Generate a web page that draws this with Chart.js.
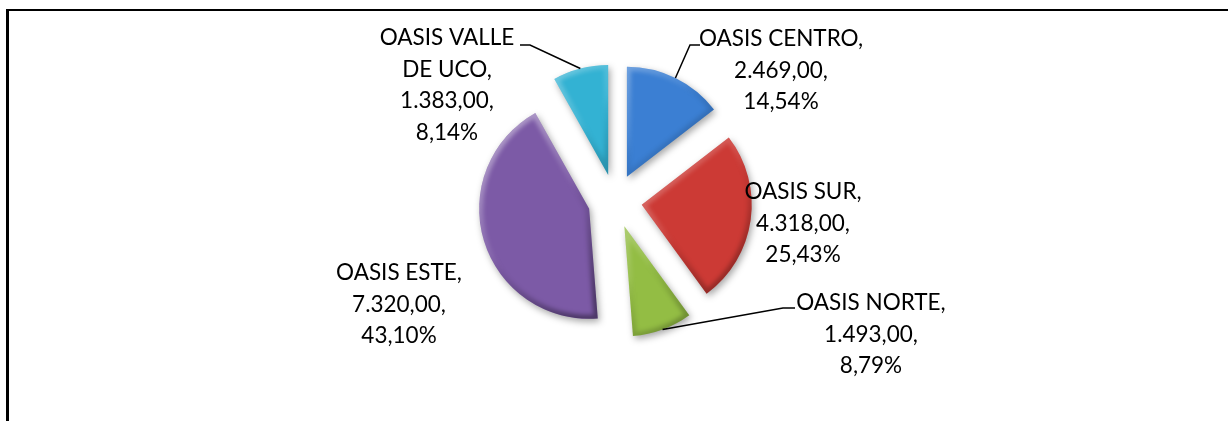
<!DOCTYPE html>
<html>
<head>
<meta charset="utf-8">
<script src="https://cdn.jsdelivr.net/npm/chart.js@4.4.1/dist/chart.umd.min.js"></script>
<style>
html, body { margin: 0; padding: 0; background: #fff; overflow: hidden; }
#wrap { position: relative; width: 1228px; height: 421px; }
#marco { position: absolute; left: 6px; top: 9px; width: 1400px; height: 600px; border-top: 2px solid #000; border-left: 3px solid #000; }
canvas { position: absolute; left: 0; top: 0; }
</style>
</head>
<body>
<div id="wrap">
  <div id="marco"></div>
  <canvas id="graficaPastel" width="1228" height="421"></canvas>
</div>
<script>
// datos de la gráfica
const categorias = ['OASIS CENTRO', 'OASIS SUR', 'OASIS NORTE', 'OASIS ESTE', 'OASIS VALLE DE UCO'];
const valores = [2469, 4318, 1493, 7320, 1383];
const colores = ['#3b7fd3', '#cc3a35', '#93bd44', '#7c5aa6', '#33b2d3'];

// estilo
const radio = 110;
const separacion = 27;
const fuente = '22.5px Lato';
const altoLinea = 31.5;
// posición de la primera línea de cada etiqueta, respecto al centro del pastel
const etiquetaPos = [[166, -163], [188, -10], [256, 101], [-216, 71], [-168, -164]];
// codo y final de las líneas guía, respecto al centro (null = sin línea)
const guias = [
    [[75, -156], [85, -156]],
    null,
    [[168, 107], [180, 107]],
    null,
    [[-85, -156], [-95, -156]]
];

function formatoNum(v) {
    const partes = v.toFixed(2).split('.');
    return partes[0].replace(/\B(?=(\d{3})+(?!\d))/g, '.') + ',' + partes[1];
}

function lineasEtiqueta(i, total) {
    const palabras = categorias[i].split(' ');
    const lineas = [];
    if (palabras.length > 2) {
        lineas.push(palabras.slice(0, 2).join(' '));
        lineas.push(palabras.slice(2).join(' ') + ',');
    } else {
        lineas.push(categorias[i] + ',');
    }
    lineas.push(formatoNum(valores[i]) + ',');
    lineas.push((valores[i] / total * 100).toFixed(2).replace('.', ',') + '%');
    return lineas;
}

const pastelExplotado = {
    id: 'pastelExplotado',
    beforeDatasetDraw(chart, args) {
        const ctx = chart.ctx;
        args.meta.data.forEach(function (arc) {
            const medio = (arc.startAngle + arc.endAngle) / 2;
            const dx = Math.cos(medio) * separacion;
            const dy = Math.sin(medio) * separacion;

            // sombra
            ctx.save();
            ctx.translate(dx, dy);
            ctx.shadowColor = 'rgba(0,0,0,0.35)';
            ctx.shadowBlur = 7;
            ctx.shadowOffsetX = 2;
            ctx.shadowOffsetY = 3;
            arc.draw(ctx);
            ctx.restore();

            // biselado
            ctx.save();
            ctx.translate(dx, dy);
            ctx.beginPath();
            ctx.moveTo(arc.x, arc.y);
            ctx.arc(arc.x, arc.y, arc.outerRadius, arc.startAngle, arc.endAngle);
            ctx.closePath();
            ctx.clip();
            const cx = arc.x + Math.cos(medio) * arc.outerRadius * 0.5;
            const cy = arc.y + Math.sin(medio) * arc.outerRadius * 0.5;
            const r = arc.outerRadius * 0.6;
            const g = ctx.createLinearGradient(cx - r, cy - r, cx + r, cy + r);
            g.addColorStop(0, 'rgba(255,255,255,0.42)');
            g.addColorStop(0.45, 'rgba(255,255,255,0.08)');
            g.addColorStop(0.55, 'rgba(0,0,0,0.05)');
            g.addColorStop(1, 'rgba(0,0,0,0.38)');
            ctx.filter = 'blur(2px)';
            ctx.lineWidth = 8;
            ctx.lineJoin = 'round';
            ctx.strokeStyle = g;
            ctx.stroke();
            ctx.restore();
        });
        return false;
    },
    afterDraw(chart) {
        const ctx = chart.ctx;
        const arcos = chart.getDatasetMeta(0).data;
        const total = valores.reduce((a, b) => a + b, 0);
        const x0 = arcos[0].x, y0 = arcos[0].y;
        ctx.save();
        ctx.font = fuente;
        ctx.fillStyle = '#000';
        ctx.textAlign = 'center';
        ctx.textBaseline = 'alphabetic';
        arcos.forEach(function (arc, i) {
            const lineas = lineasEtiqueta(i, total);
            const px = x0 + etiquetaPos[i][0];
            const py = y0 + etiquetaPos[i][1] + 8;
            lineas.forEach(function (t, k) {
                ctx.fillText(t, px, py + k * altoLinea);
            });
            if (guias[i]) {
                const medio = (arc.startAngle + arc.endAngle) / 2;
                const d = separacion + arc.outerRadius;
                ctx.beginPath();
                ctx.moveTo(arc.x + Math.cos(medio) * d, arc.y + Math.sin(medio) * d);
                ctx.lineTo(x0 + guias[i][0][0], y0 + guias[i][0][1]);
                ctx.lineTo(x0 + guias[i][1][0], y0 + guias[i][1][1]);
                ctx.lineWidth = 1.5;
                ctx.strokeStyle = '#000';
                ctx.stroke();
            }
        });
        ctx.restore();
    }
};

new Chart(document.getElementById('graficaPastel'), {
    type: 'pie',
    data: {
        labels: categorias,
        datasets: [{
            data: valores,
            backgroundColor: colores,
            borderWidth: 0,
            radius: radio
        }]
    },
    options: {
        responsive: false,
        animation: false,
        layout: { padding: { left: 2, top: 0, right: 0, bottom: 19 } },
        plugins: {
            legend: { display: false },
            tooltip: { enabled: false }
        }
    },
    plugins: [pastelExplotado]
});
</script>
</body>
</html>
